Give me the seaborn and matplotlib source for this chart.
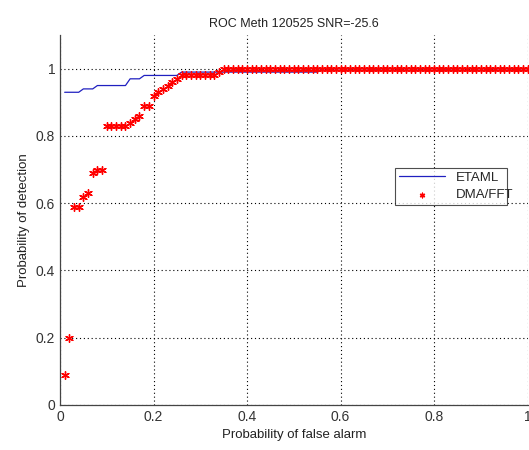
import numpy as np
import pandas as pd
import matplotlib
matplotlib.use('Agg')
import matplotlib.pyplot as plt
import seaborn as sns

# ETAML curve (vertices of the line)
etaml_x = [0.01, 0.04, 0.05, 0.07, 0.08, 0.14, 0.15, 0.17, 0.18, 0.25, 0.26, 0.55, 0.56, 1.0]
etaml_y = [0.93, 0.93, 0.94, 0.94, 0.95, 0.95, 0.97, 0.97, 0.98, 0.98, 0.99, 0.99, 1.0, 1.0]

# DMA/FFT points, false alarm 0.01 .. 1.00
dma_x = [round(0.01 * i, 2) for i in range(1, 101)]
dma_y = [0.09, 0.20, 0.59, 0.59, 0.62, 0.63, 0.69, 0.70, 0.70, 0.83,
         0.83, 0.83, 0.83, 0.83, 0.84, 0.85, 0.86, 0.89, 0.89, 0.92,
         0.93, 0.94, 0.95, 0.96, 0.97, 0.98, 0.98, 0.98, 0.98, 0.98,
         0.98, 0.98, 0.98, 0.99, 1.00, 1.00, 1.00, 1.00, 1.00, 1.00,
         1.00, 1.00, 1.00, 1.00, 1.00, 1.00, 1.00, 1.00, 1.00, 1.00,
         1.00, 1.00, 1.00, 1.00, 1.00, 1.00, 1.00, 1.00, 1.00, 1.00,
         1.00, 1.00, 1.00, 1.00, 1.00, 1.00, 1.00, 1.00, 1.00, 1.00,
         1.00, 1.00, 1.00, 1.00, 1.00, 1.00, 1.00, 1.00, 1.00, 1.00,
         1.00, 1.00, 1.00, 1.00, 1.00, 1.00, 1.00, 1.00, 1.00, 1.00,
         1.00, 1.00, 1.00, 1.00, 1.00, 1.00, 1.00, 1.00, 1.00, 1.00]

sns.set_style('white')
plt.rcParams['font.family'] = ['Liberation Sans', 'DejaVu Sans']

fig = plt.figure(figsize=(5.29, 4.5), dpi=100)
ax = fig.add_axes([0.1134, 0.1, 0.884, 0.822])

sns.lineplot(x=etaml_x, y=etaml_y, color='#2020c0', linewidth=0.9, label='ETAML', ax=ax)
sns.scatterplot(x=dma_x, y=dma_y, marker=(6, 2, 0), color='red', s=30, linewidth=1.0,
                label='DMA/FFT', ax=ax, zorder=3)

ax.set_xlim(0, 1)
ax.set_ylim(0, 1.1)
ax.set_xticks([0, 0.2, 0.4, 0.6, 0.8, 1])
ax.set_xticklabels(['0', '0.2', '0.4', '0.6', '0.8', '1'])
ax.set_yticks([0, 0.2, 0.4, 0.6, 0.8, 1])
ax.set_yticklabels(['0', '0.2', '0.4', '0.6', '0.8', '1'])
ax.grid(True, color='black', linestyle=(0, (1, 2.5)), linewidth=0.8)
ax.tick_params(direction='in', length=3, labelsize=10, colors='#333333')
sns.despine(ax=ax, top=True, right=True)
for s in ['left', 'bottom']:
    ax.spines[s].set_color('#444444')
    ax.spines[s].set_linewidth(0.9)

ax.set_title('ROC Meth 120525 SNR=-25.6', fontsize=9, color='#222222')
ax.set_xlabel('Probability of false alarm', fontsize=9.5, color='#222222')
ax.set_ylabel('Probability of detection', fontsize=9.5, color='#222222')

leg = ax.legend(loc='lower left', bbox_to_anchor=(0.703, 0.522, 0.267, 0.122), mode='expand',
                fontsize=9.5, frameon=True, fancybox=False, handlelength=3.5,
                borderpad=0.3, labelspacing=0.4, markerscale=0.6)
leg.get_frame().set_edgecolor('#222222')
leg.get_frame().set_linewidth(0.8)

fig.savefig('out.png', dpi=100)
